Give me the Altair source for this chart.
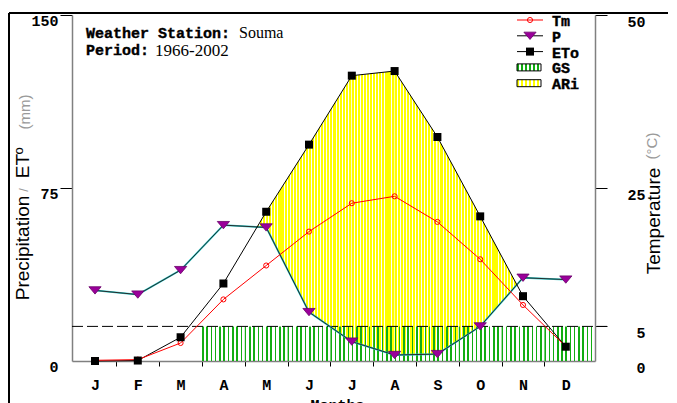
import json
import altair as alt
import pandas as pd

# ---------------- data ----------------
MONTHS = ["J", "F", "M", "A", "M", "J", "J", "A", "S", "O", "N", "D"]
TM = [0.1, 0.2, 2.6, 8.9, 13.8, 18.7, 22.8, 23.8, 20.1, 14.7, 8.1, 2.1]      # °C
P = [30.6, 28.8, 39.4, 58.9, 57.9, 21.2, 8.4, 2.6, 3.0, 15.0, 36.1, 35.3]     # mm
ETO = [0.0, 0.2, 10.3, 33.6, 64.7, 93.8, 123.7, 125.7, 97.1, 62.7, 28.1, 6.2]  # mm
GS_START = 3.5          # growing season begins between M and A
T_THRESHOLD = 5         # °C (dashed line)
MM_PER_C = 3            # 50 °C <-> 150 mm
LEFT_TICKS = [0, 75, 150]
RIGHT_TICKS = [0, 5, 25, 50]
LEGEND = ["Tm", "P", "ETo", "GS", "ARi"]

# ---------------- layout ----------------
W, H = 523, 346
XDOM = [0.4626, 12.682]
MONO = "Liberation Mono"
SERIF = "Liberation Serif"
SANS = "Liberation Sans"
GREEN = "#12ad12"
GREEN_CLEAR = "rgba(18,173,18,0)"


def px(m):
    return (m - XDOM[0]) / (XDOM[1] - XDOM[0]) * W


def stripes(color, n, frac, gap="rgba(255,255,255,0)"):
    stops = []
    for k in range(n):
        a, b, c = k / n, (k + frac) / n, (k + 1) / n
        stops += [
            {"color": color, "offset": round(a, 6)},
            {"color": color, "offset": round(b, 6)},
            {"color": gap, "offset": round(b, 6)},
            {"color": gap, "offset": round(c, 6)},
        ]
    return {"gradient": "linear", "x1": 0, "x2": 1, "y1": 0, "y2": 0, "stops": stops}


df = pd.DataFrame({"m": list(range(1, 13)), "month": MONTHS, "Tm": TM, "P": P, "ETo": ETO})

# area where ETo exceeds P (ARi): crossing points of the two polylines
ari_rows = []
for i in range(11):
    d0, d1 = ETO[i] - P[i], ETO[i + 1] - P[i + 1]
    if d0 > 0:
        ari_rows.append({"m": i + 1, "top": ETO[i], "bot": P[i]})
    if (d0 > 0) != (d1 > 0):
        t = d0 / (d0 - d1)
        v = ETO[i] + t * (ETO[i + 1] - ETO[i])
        ari_rows.append({"m": i + 1 + t, "top": v, "bot": v})
ari = pd.DataFrame(ari_rows).sort_values("m").reset_index(drop=True)

# ---------------- scales / axes ----------------
xscale = alt.Scale(domain=XDOM, nice=False, zero=False)
half = (px(2) - px(1)) / 2
xaxis = alt.Axis(
    values=list(range(1, 13)), labelExpr=json.dumps(MONTHS) + "[datum.value - 1]",
    tickOffset=half, labelOffset=-half, tickSize=5, tickColor="black",
    tickOpacity={"condition": {"test": "datum.value == 12", "value": 0}, "value": 1},
    domainColor="#808080", domainWidth=1.5, labelFont=MONO, labelFontWeight="bold",
    labelFontSize=15, labelColor="black", labelPadding=11, labelBaseline="top",
    labelFlush=False, labelOverlap=False, grid=False,
    title="Months", titleFont=MONO, titleFontWeight="bold", titleFontSize=15,
    titleX=265, titleY=36, titleBaseline="top", titleColor="black",
)
X = alt.X("m:Q", scale=xscale, axis=xaxis)

mm_scale = alt.Scale(domain=[0, 150], nice=False, zero=False)
mm_axis = alt.Axis(
    values=LEFT_TICKS, title=None, tickSize=12, tickColor="black",
    tickOpacity={"condition": {"test": "datum.value == 0", "value": 0}, "value": 1},
    domainColor="#808080", domainWidth=1.5, labelFont=MONO, labelFontWeight="bold",
    labelFontSize=15, labelColor="black", labelPadding=2, labelOffset=5,
    labelOverlap=False, grid=False,
)
t_scale = alt.Scale(domain=[0, 50], nice=False, zero=False)
t_axis = alt.Axis(
    orient="right", values=RIGHT_TICKS, title=None, tickSize=12, tickColor="black",
    tickOpacity={"condition": {"test": "datum.value == 0", "value": 0}, "value": 1},
    domainColor="#808080", domainWidth=1.5, labelFont=MONO, labelFontWeight="bold",
    labelFontSize=15, labelColor="black", labelAlign="right", labelPadding=38,
    labelOffset=6, labelOverlap=False, grid=False,
)

one = pd.DataFrame({"k": [0]})
Ymm = lambda f: alt.Y(f, scale=mm_scale, axis=mm_axis)

# ---------------- group A: mm scale, fills and lines ----------------
layers_a = []
# yellow hatched ARi area, one piece per interval so the hatch stays fine
for j in range(len(ari) - 1):
    seg = ari.iloc[j:j + 2]
    wpx = px(seg["m"].iloc[1]) - px(seg["m"].iloc[0])
    n = max(1, int(round(wpx / 3.0)))
    layers_a.append(alt.Chart(seg).mark_area(
        color=stripes("#ffff00", n, 0.68, gap="#ffffff"), opacity=1
    ).encode(x=X, y=Ymm("top:Q"), y2="bot:Q"))

# green hatched growing season, one rect per month
bounds = [GS_START + k for k in range(int(11.5 - GS_START) + 1)] + [XDOM[1]]
for a, b in zip(bounds[:-1], bounds[1:]):
    wpx = px(b) - px(a)
    n = max(1, int(round(wpx / 4.1)))
    seg = pd.DataFrame({"m0": [a], "m1": [b]})
    layers_a.append(alt.Chart(seg).mark_rect(
        color=stripes(GREEN, n, 0.36, gap=GREEN_CLEAR)
    ).encode(
        x=alt.X("m0:Q", scale=xscale, axis=xaxis), x2="m1:Q",
        y=alt.Y(datum=T_THRESHOLD * MM_PER_C, type="quantitative", scale=mm_scale, axis=mm_axis),
        y2=alt.Y2(datum=0),
    ))

dashed = alt.Chart(one).mark_rule(color="black", strokeWidth=1, strokeDash=[11, 4]).encode(
    y=alt.Y(datum=T_THRESHOLD * MM_PER_C, type="quantitative", scale=mm_scale, axis=mm_axis),
    x=alt.value(0), x2=alt.value(W + 12),
)

p_line_under = alt.Chart(df).mark_line(color="#22c8c8", strokeWidth=1.8).encode(x=X, y=Ymm("P:Q"))
p_line = alt.Chart(df).mark_line(color="#2a2a2a", strokeWidth=1).encode(x=X, y=Ymm("P:Q"))
eto_line = alt.Chart(df).mark_line(color="black", strokeWidth=1).encode(x=X, y=Ymm("ETo:Q"))

group_a = alt.layer(*layers_a, dashed, p_line_under, p_line, eto_line)

# ---------------- group B: temperature scale ----------------
tm_line = alt.Chart(df).mark_line(color="#ff0000", strokeWidth=1).encode(
    x=X, y=alt.Y("Tm:Q", scale=t_scale, axis=t_axis))
tm_pts = alt.Chart(df).mark_point(
    shape="circle", filled=False, color="#ff0000", size=26, strokeWidth=1, opacity=1
).encode(x=X, y=alt.Y("Tm:Q", scale=t_scale, axis=t_axis))
group_b = alt.layer(tm_line, tm_pts)

# ---------------- group C: markers, legend, texts, frame ----------------
TRI = "M-1,-0.6L1,-0.6L0,0.6Z"
p_pts = alt.Chart(df).mark_point(
    shape=TRI, filled=True, fill="#9a009a", stroke="#6a006a", strokeWidth=0.8, size=150, opacity=1
).encode(x=X, y=alt.Y("P:Q", scale=mm_scale, axis=None))
eto_pts = alt.Chart(df).mark_square(color="black", size=64, opacity=1).encode(
    x=X, y=alt.Y("ETo:Q", scale=mm_scale, axis=None))

layers_c = [p_pts, eto_pts]

LX0, LX1, LXM, LXT = 445, 471, 458, 480
for i, name in enumerate(LEGEND):
    yy = 5 + 15.8 * i
    if name in ("Tm", "P", "ETo"):
        lc = "#ff0000" if name == "Tm" else "black"
        layers_c.append(alt.Chart(one).mark_rule(color=lc, strokeWidth=1).encode(
            x=alt.value(LX0), x2=alt.value(LX1), y=alt.value(yy)))
        if name == "Tm":
            mk = alt.Chart(one).mark_point(shape="circle", filled=False, color="#ff0000",
                                           size=26, strokeWidth=1, opacity=1)
        elif name == "P":
            mk = alt.Chart(one).mark_point(shape=TRI, filled=True, fill="#9a009a", stroke="#6a006a",
                                           strokeWidth=0.8, size=150, opacity=1)
        else:
            mk = alt.Chart(one).mark_square(color="black", size=64, opacity=1)
        layers_c.append(mk.encode(x=alt.value(LXM), y=alt.value(yy)))
    else:
        col = GREEN if name == "GS" else "#ffff00"
        layers_c.append(alt.Chart(one).mark_rect(
            color=stripes(col, 6, 0.5, gap="#ffffff"), stroke="black", strokeWidth=1
        ).encode(x=alt.value(LX0), x2=alt.value(LX1 - 2), y=alt.value(yy - 3.5), y2=alt.value(yy + 3.5)))
    layers_c.append(alt.Chart(one).mark_text(
        text=name, font=MONO, fontWeight="bold", fontSize=15, color="black",
        stroke="black", strokeWidth=0.4,
        align="left", baseline="middle").encode(x=alt.value(LXT), y=alt.value(yy + 1)))


def txt(s, x, y, font, size, weight="normal", color="black", angle=0, align="left", sw=0):
    kw = {}
    if sw:
        kw = {"stroke": color, "strokeWidth": sw}
    return alt.Chart(one).mark_text(
        text=s, font=font, fontSize=size, fontWeight=weight, color=color, angle=angle,
        align=align, baseline="middle", **kw).encode(x=alt.value(x), y=alt.value(y))


layers_c += [
    txt("Weather Station:", 14, 18, MONO, 15, "bold", sw=0.4),
    txt("Souma", 167, 18, SERIF, 16),
    txt("Period:", 14, 35, MONO, 15, "bold", sw=0.4),
    txt("1966-2002", 83, 36, SERIF, 17),
    # left title
    txt("Precipitation", -49, 233, SANS, 19, angle=270, align="center"),
    txt("/", -48, 175, SANS, 13, color="#9a9a9a", angle=270, align="center"),
    txt("ET", -49, 151, SANS, 19, angle=270, align="center"),
    txt("o", -53, 136, SANS, 13, angle=270, align="center"),
    txt("(mm)", -47, 97, SANS, 15, color="#9a9a9a", angle=270, align="center"),
    # right title
    txt("Temperature", 582, 206, SANS, 19, angle=270, align="center"),
    txt("(°C)", 580, 131, SANS, 15, color="#9a9a9a", angle=270, align="center"),
]

# outer frame (left and top edges)
layers_c.append(alt.Chart(one).mark_rule(color="black", strokeWidth=2).encode(
    x=alt.value(-63), y=alt.value(-2), y2=alt.value(H + 80)))
layers_c.append(alt.Chart(one).mark_rule(color="black", strokeWidth=2).encode(
    x=alt.value(-63), x2=alt.value(W + 120), y=alt.value(-2)))

group_c = alt.layer(*layers_c)

chart = alt.layer(group_a, group_b, group_c).resolve_scale(y="independent").properties(
    width=W, height=H,
    padding={"left": 64, "top": 7, "right": 73, "bottom": 47},
    autosize=alt.AutoSizeParams(type="none"),
    background="white",
).configure_view(stroke=None)

chart.save("out.html", embed_options={"renderer": "svg", "actions": False})
